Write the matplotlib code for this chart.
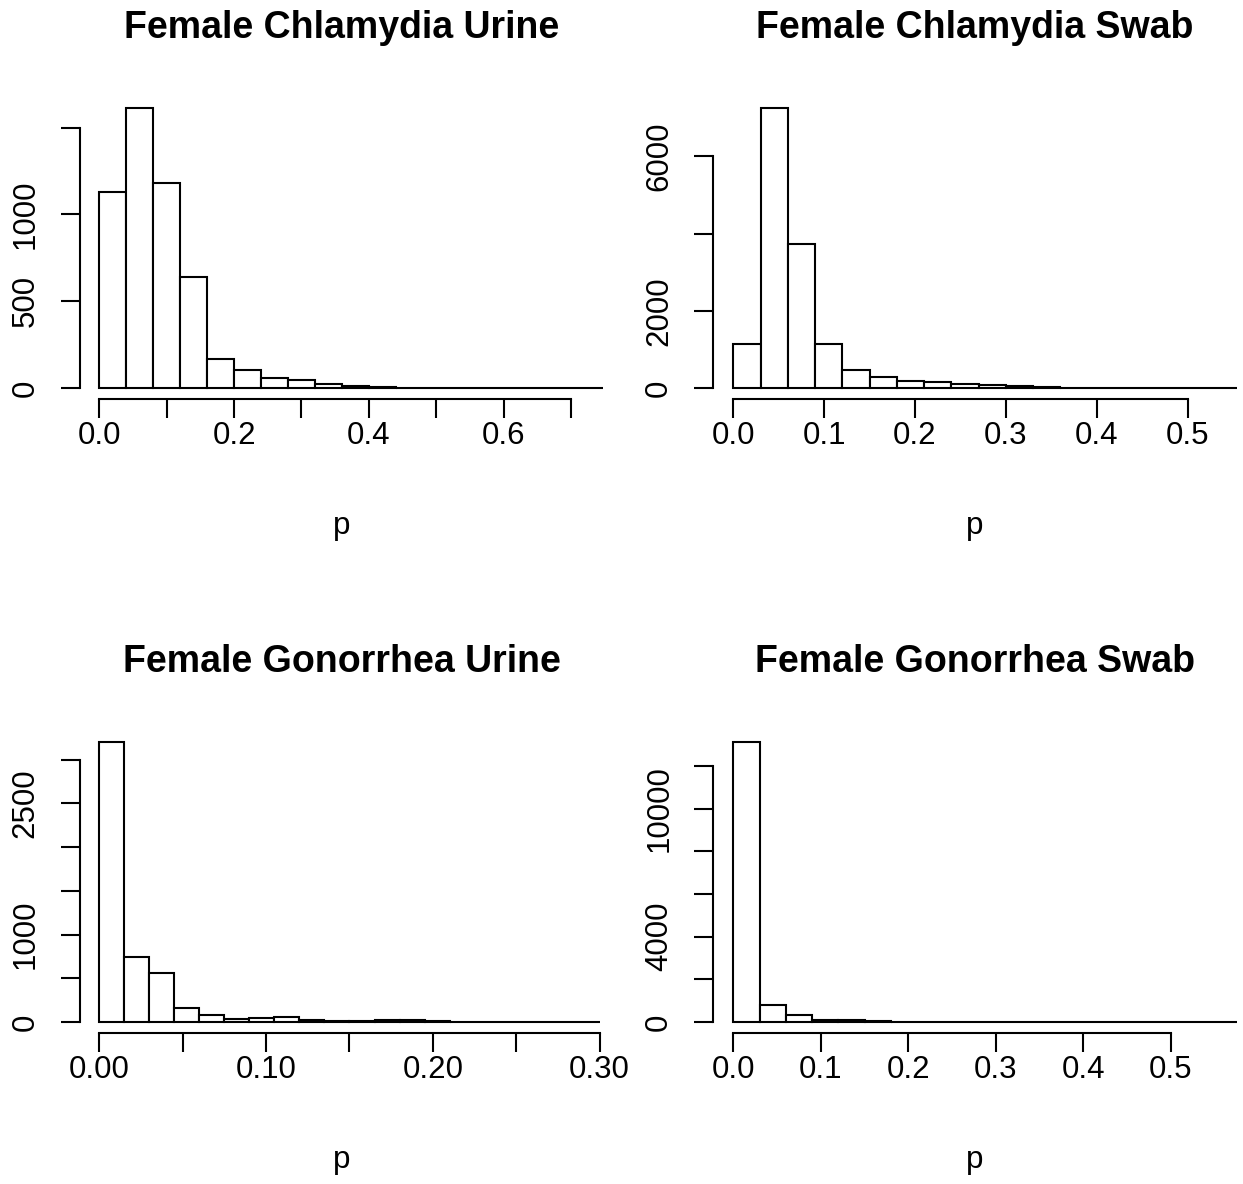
import numpy as np
import matplotlib
matplotlib.use("Agg")
import matplotlib.pyplot as plt

plt.rcParams["font.family"] = ["Liberation Sans", "DejaVu Sans"]

W, H = 1243, 1184

# Histogram counts per bin (equal-width bins starting at 0)
titles = ["Female Chlamydia Urine", "Female Chlamydia Swab",
          "Female Gonorrhea Urine", "Female Gonorrhea Swab"]
bin_widths = [0.04, 0.03, 0.015, 0.03]

ct_urine = [1128, 1615, 1182, 641, 167, 104, 58, 48, 25, 12,
            6, 3, 2, 2, 1, 1, 1, 2, 1]
ct_swab = [1155, 7259, 3741, 1147, 474, 284, 190, 155, 112, 70,
           45, 25, 15, 10, 6, 4, 2, 1, 1]
ng_urine = [3206, 748, 561, 164, 76, 34, 46, 53, 19, 11,
            15, 27, 23, 8, 5, 2, 2, 6, 1, 1]
ng_swab = [13146, 798, 329, 110, 78, 30, 12, 10, 8, 6,
           5, 4, 4, 3, 3, 2, 2, 3, 1, 1]
counts = [ct_urine, ct_swab, ng_urine, ng_swab]

# axis ticks and labels
xticks = [np.arange(0, 0.71, 0.1), np.arange(0, 0.51, 0.1),
          np.arange(0, 0.301, 0.05), np.arange(0, 0.51, 0.1)]
xlabels = [["0.0", "", "0.2", "", "0.4", "", "0.6", ""],
           ["0.0", "0.1", "0.2", "0.3", "0.4", "0.5"],
           ["0.00", "", "0.10", "", "0.20", "", "0.30"],
           ["0.0", "0.1", "0.2", "0.3", "0.4", "0.5"]]
yticks = [[0, 500, 1000, 1500], [0, 2000, 4000, 6000],
          [0, 500, 1000, 1500, 2000, 2500, 3000],
          [0, 2000, 4000, 6000, 8000, 10000, 12000]]
ylabels = [["0", "500", "1000", ""], ["0", "2000", "", "6000"],
           ["0", "", "1000", "", "", "2500", ""],
           ["0", "", "4000", "", "", "10000", ""]]
xlims = [(-0.0287, 0.748), (-0.022, 0.5538), (-0.0116, 0.3022), (-0.0229, 0.575)]

# plot regions in pixels: left, top
regions = [(80, 96.4), (713.3, 96.4), (80, 730.3), (713.3, 730.3)]
pw, ph = 523.3, 303.0

lw = 1.5
fs = 22.5
fig = plt.figure(figsize=(W / 100, H / 100), dpi=100)

for i in range(4):
    left, top = regions[i]
    ax = fig.add_axes([left / W, 1 - (top + ph) / H, pw / W, ph / H])
    c = np.array(counts[i], dtype=float)
    edges = np.arange(len(c)) * bin_widths[i]
    ax.bar(edges, c, width=bin_widths[i], align="edge", facecolor="white",
           edgecolor="black", linewidth=lw)
    m = c.max()
    ax.set_ylim(-0.04 * m, 1.04 * m)
    ax.set_xlim(*xlims[i])

    for s in ["top", "right"]:
        ax.spines[s].set_visible(False)
    for s in ["left", "bottom"]:
        ax.spines[s].set_linewidth(lw)
    ax.spines["left"].set_bounds(yticks[i][0], yticks[i][-1])
    ax.spines["bottom"].set_bounds(xticks[i][0], xticks[i][-1])

    ax.set_xticks(xticks[i])
    ax.set_xticklabels(xlabels[i])
    ax.set_yticks(yticks[i])
    ax.set_yticklabels(ylabels[i], rotation=90, va="center")
    ax.tick_params(axis="both", length=13.7, width=lw, labelsize=fs)
    ax.tick_params(axis="x", pad=2)
    ax.tick_params(axis="y", pad=14.5)

    cx = (left + pw / 2) / W
    fig.text(cx, 1 - (top - 58) / H, titles[i], ha="center", va="baseline",
             fontsize=27, fontweight="bold")
    fig.text(cx, 1 - (top + 437.5) / H, "p", ha="center", va="baseline",
             fontsize=fs)

fig.savefig("out.png", dpi=100, facecolor="white")
